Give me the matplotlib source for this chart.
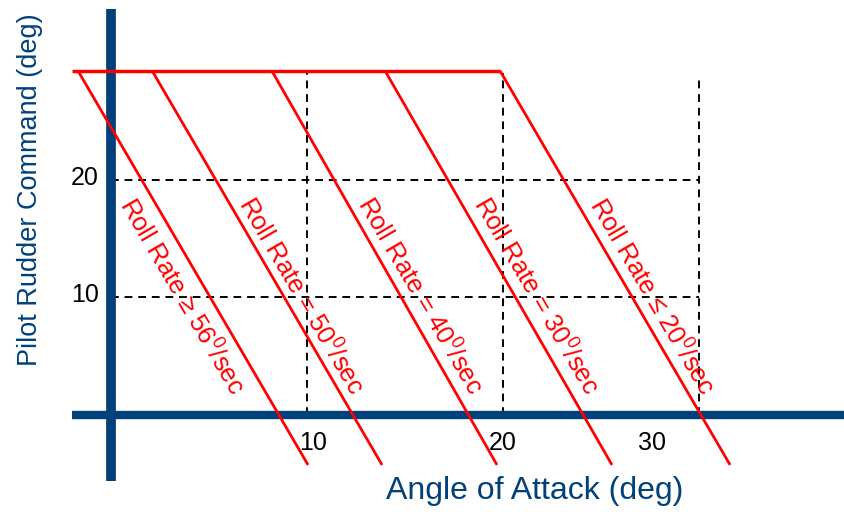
import numpy as np
import matplotlib
matplotlib.use("Agg")
import matplotlib.pyplot as plt

plt.rcParams['font.family'] = ['Liberation Sans', 'DejaVu Sans']
plt.rcParams['mathtext.fontset'] = 'custom'
plt.rcParams['mathtext.rm'] = 'Liberation Sans'
plt.rcParams['mathtext.it'] = 'Liberation Sans:italic'

# roll-rate boundary lines: x at the top (saturated rudder) and x at the bottom end
top_rudder = 29.3
bottom_rudder = -4.25
x_top = [-1.66, 2.12, 8.22, 13.99, 19.85]
x_bottom = [10.07, 13.84, 19.70, 25.56, 31.58]
roll_labels = ["Roll Rate \u2265 56$^{0}$/sec",
               "Roll Rate = 50$^{0}$/sec",
               "Roll Rate = 40$^{0}$/sec",
               "Roll Rate = 30$^{0}$/sec",
               "Roll Rate \u2264 20$^{0}$/sec"]
label_x = [3.64, 9.71, 15.77, 21.69, 27.60]
label_y = 10.1

grid_x = [10, 20, 30]
grid_y = [10, 20]
xtick_labels = ["10", "20", "30"]
xtick_pos = [10.3, 20.0, 27.6]
ytick_labels = ["20", "10"]
ytick_pos = [20, 10]

blue = '#00417B'
red = '#FF0000'

fig = plt.figure(figsize=(8.45, 5.14), dpi=100)
ax = fig.add_axes([0, 0, 1, 1])
ax.set_xlim(-5.632, 37.436)
ax.set_ylim(-8.426, 35.319)
ax.axis('off')

# dashed grid
for gx in grid_x:
    ax.plot([gx, gx], [0, 29.1 if gx < 30 else 28.9], color='black',
            lw=1.4, ls=(0, (4, 3)), zorder=1)
for gy in grid_y:
    ax.plot([0, 30], [gy, gy], color='black', lw=1.4, ls=(0, (4, 3)), zorder=1)

# red boundary lines
ax.plot([-1.96, x_top[-1]], [top_rudder, top_rudder], color=red, lw=2.5,
        solid_capstyle='butt', zorder=3)
for xt, xb in zip(x_top, x_bottom):
    ax.plot([xt, xb], [top_rudder, bottom_rudder], color=red, lw=2,
            solid_capstyle='butt', zorder=3)

# rotation of the lines on screen
p0 = ax.transData.transform((x_top[0], top_rudder))
p1 = ax.transData.transform((x_bottom[0], bottom_rudder))
ang = np.degrees(np.arctan2(p1[1] - p0[1], p1[0] - p0[0]))

for lab, lx in zip(roll_labels, label_x):
    ax.text(lx, label_y, lab, color=red, fontsize=18.5, rotation=ang,
            rotation_mode='anchor', ha='center', va='center', zorder=4)

# axes
ax.plot([0, 0], [-5.62, 34.55], color=blue, lw=7, solid_capstyle='butt', zorder=2)
ax.plot([-1.96, 37.5], [0, 0], color=blue, lw=6, solid_capstyle='butt', zorder=2)

for t, xp in zip(xtick_labels, xtick_pos):
    ax.text(xp, -2.4, t, fontsize=18, ha='center', va='center', color='black')
for t, yp in zip(ytick_labels, ytick_pos):
    ax.text(-0.6, yp + 0.2, t, fontsize=18, ha='right', va='center', color='black')

ax.text(21.6, -6.5, "Angle of Attack (deg)", fontsize=23, color=blue,
        ha='center', va='center')
ax.text(-4.1, 19.2, "Pilot Rudder Command (deg)", fontsize=19.5, color=blue,
        rotation=90, ha='center', va='center')

fig.savefig("out.png", dpi=100)
